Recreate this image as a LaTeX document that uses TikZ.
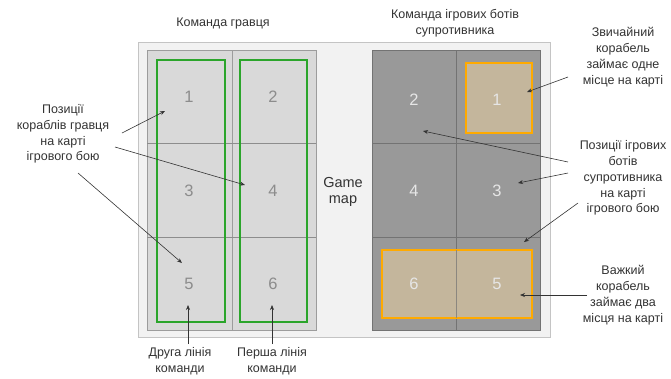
\documentclass[tikz,border=0pt]{standalone}
\usepackage{fontspec}
\setmainfont{Liberation Sans}
\usetikzlibrary{arrows.meta}
\definecolor{mapbg}{HTML}{F2F2F2}
\definecolor{mapedge}{HTML}{C4C4C4}
\definecolor{plcell}{HTML}{D9D9D9}
\definecolor{pledge}{HTML}{9C9C9C}
\definecolor{botcell}{HTML}{999999}
\definecolor{botedge}{HTML}{737373}
\definecolor{shipgreen}{HTML}{2BA52B}
\definecolor{shiporange}{HTML}{FFAA00}
\definecolor{shipfill}{HTML}{C4B69C}
\definecolor{numgray}{HTML}{8C8C8C}
\definecolor{numlight}{HTML}{E6E6E6}
\definecolor{txt}{HTML}{333333}
\begin{document}
\begin{tikzpicture}[x=1pt,y=-1pt,
  lbl/.style={font=\fontsize{12.5}{15.8}\selectfont, text=txt, align=center, inner sep=0pt},
  num/.style={font=\fontsize{16.5}{16.5}\selectfont, inner sep=0pt},
  plnum/.style={num, text=numgray},
  botnum/.style={num, text=numlight},
  pointer/.style={draw=txt, line width=0.6pt, -{Stealth[length=5pt,width=4pt]}},
  plcellbox/.style={draw=pledge, fill=plcell, line width=0.8pt},
  botcellbox/.style={draw=botedge, fill=botcell, line width=0.8pt},
  greenship/.style={draw=shipgreen, line width=1.6pt},
  orangeship/.style={draw=shiporange, fill=shipfill, line width=1.8pt}]
\useasboundingbox (0,0) rectangle (671,378);

% game map frame
\draw[mapedge, fill=mapbg, line width=0.8pt] (138,42) rectangle (550,337);

% player team: two columns of three cells
\draw[plcellbox] (147,50) rectangle (316,330);
\draw[pledge, line width=0.8pt] (232,50) -- (232,330);
\draw[pledge!90!black, line width=0.8pt] (147,143) -- (316,143);
\draw[pledge!90!black, line width=0.8pt] (147,237) -- (316,237);
\draw[greenship] (157,60) rectangle (225,322);
\draw[greenship] (240,60) rectangle (307,322);

\node[plnum] (p1) at (189,97) {1};
\node[plnum] (p2) at (273,97) {2};
\node[plnum] (p3) at (189,191) {3};
\node[plnum] (p4) at (273,191) {4};
\node[plnum] (p5) at (189,284) {5};
\node[plnum] (p6) at (273,284) {6};

% opponent bots
\draw[botcellbox] (372,50) rectangle (540,330);
\draw[botedge, line width=0.8pt] (456,50) -- (456,330);
\draw[botedge, line width=0.8pt] (372,143) -- (540,143);
\draw[botedge, line width=0.8pt] (372,237) -- (540,237);
\draw[orangeship] (466,63) rectangle (532,133);
\draw[orangeship] (382,250) rectangle (532,318);
\draw[botedge!70!shipfill, line width=0.8pt] (456,250) -- (456,318);

\node[botnum] (b2) at (414,100) {2};
\node[botnum] (b1) at (497,100) {1};
\node[botnum] (b4) at (414,191) {4};
\node[botnum] (b3) at (497,191) {3};
\node[botnum] (b6) at (414,284) {6};
\node[botnum] (b5) at (497,284) {5};

\node[lbl, font=\fontsize{14.5}{16}\selectfont] (gm) at (343,192) {Game\\map};

% titles
\node[lbl] (tpl) at (223,23) {Команда гравця};
\node[lbl] (tbot) at (455,23) {Команда ігрових ботів\\супротивника};

% captions
\node[lbl] (lpos) at (63,134) {Позиції\\кораблів гравця\\на карті\\ігрового бою};
\node[lbl] (lsec) at (180,361) {Друга лінія\\команди};
\node[lbl] (lfir) at (272,361) {Перша лінія\\команди};
\node[lbl] (rone) at (623,57) {Звичайний\\корабель\\займає одне\\місце на карті};
\node[lbl] (rbot) at (623,178) {Позиції ігрових\\ботів\\супротивника\\на карті\\ігрового бою};
\node[lbl] (rtwo) at (623,295) {Важкий\\корабель\\займає два\\місця на карті};

% pointer targets
\coordinate (tp1) at (165,111);
\coordinate (tp4) at (245,185);
\coordinate (tp5) at (182,263);
\coordinate (tsec) at (188,305);
\coordinate (tfir) at (272,305);
\coordinate (tb1) at (527,92);
\coordinate (tb2) at (423,131);
\coordinate (tb3) at (518,183);
\coordinate (tb5) at (524,242);
\coordinate (tbig) at (520,295);

\draw[pointer] (122,133) -- (tp1);
\draw[pointer] (115,147) -- (tp4);
\draw[pointer] (78,173) -- (tp5);
\draw[pointer] (lsec.north -| tsec) ++(0,-3) -- (tsec);
\draw[pointer] (lfir.north -| tfir) ++(0,-3) -- (tfir);
\draw[pointer] (568,77) -- (tb1);
\draw[pointer] (568,162) -- (tb2);
\draw[pointer] (568,173) -- (tb3);
\draw[pointer] (578,203) -- (tb5);
\draw[pointer] (587,295) -- (tbig);
\end{tikzpicture}
\end{document}
